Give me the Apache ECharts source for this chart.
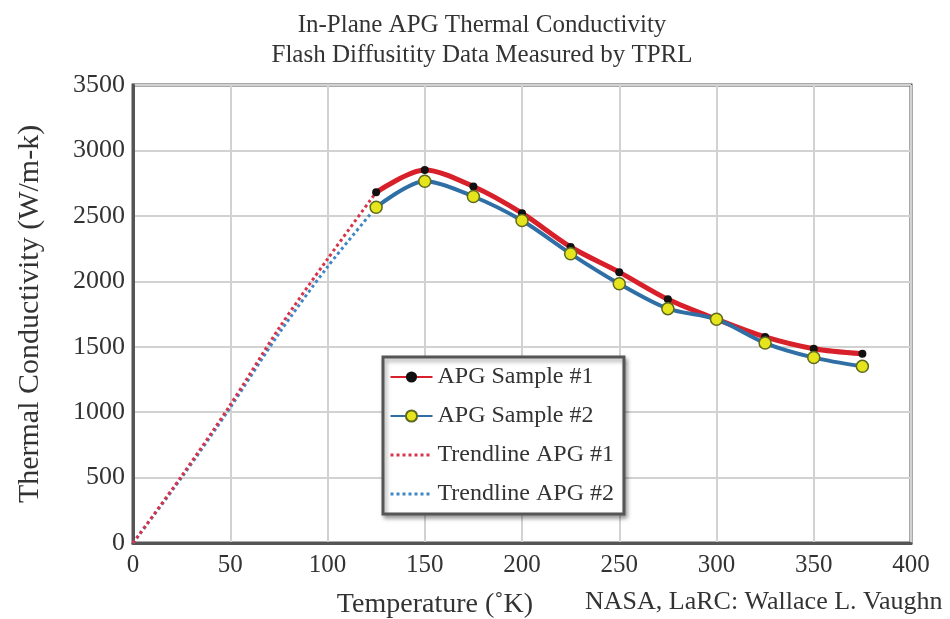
<!DOCTYPE html>
<html>
<head>
<meta charset="utf-8">
<script src="https://cdn.jsdelivr.net/npm/echarts@6/dist/echarts.min.js"></script>
<style>
  html, body { margin: 0; padding: 0; background: #fff; }
  #chart { width: 950px; height: 619px; }
</style>
</head>
<body>
<div id="chart"></div>
<script>
// temperatures (K) of the measured points
const temps = [125, 150, 175, 200, 225, 250, 275, 300, 325, 350, 375]
const sample1 = [2680, 2850, 2724, 2520, 2262, 2070, 1862, 1710, 1575, 1485, 1447]
const sample2 = [2566, 2765, 2648, 2464, 2210, 1981, 1791, 1710, 1528, 1417, 1350]

// trendlines below the first measurement
const trendTemps = [0, 25, 50, 75, 100, 125]
const trend1 = [0, 512, 1055, 1640, 2170, 2680]
const trend2 = [0, 500, 1035, 1600, 2110, 2566]

const xTicks = [0, 50, 100, 150, 200, 250, 300, 350, 400]

const serif = '"Liberation Serif", "DejaVu Serif", serif'

const pair = (xs, ys) => xs.map((x, i) => [x, ys[i]])

const chart = echarts.init(document.getElementById('chart'))

chart.setOption({
  animation: false,
  backgroundColor: '#fff',
  textStyle: { fontFamily: serif },
  title: {
    text: 'In-Plane APG Thermal Conductivity\nFlash Diffusitity Data Measured by TPRL',
    left: 477,
    top: 5,
    textAlign: 'center',
    textStyle: { fontFamily: serif, fontSize: 25, fontWeight: 'normal', color: '#333', lineHeight: 30 }
  },
  grid: {
    left: 133, right: 39, top: 85, bottom: 76,
    outerBoundsMode: 'none',
    show: true, borderColor: '#555', borderWidth: 3
  },
  legend: {
    orient: 'vertical',
    left: 383, top: 357,
    width: 239,
    padding: [8, 10, 8, 6],
    itemGap: 15,
    itemWidth: 42,
    itemHeight: 14,
    backgroundColor: '#fff',
    borderColor: '#555',
    borderWidth: 3,
    shadowColor: 'rgba(0,0,0,0.35)',
    shadowBlur: 4,
    shadowOffsetX: 2,
    shadowOffsetY: 3,
    textStyle: { fontFamily: serif, fontSize: 24, color: '#333' },
    data: [
      'APG Sample #1',
      'APG Sample #2',
      { name: 'Trendline APG #1', itemStyle: { opacity: 0 }, lineStyle: { width: 3 } },
      { name: 'Trendline APG #2', itemStyle: { opacity: 0 }, lineStyle: { width: 3 } }
    ]
  },
  xAxis: {
    type: 'value',
    min: 0, max: 400, interval: 50,
    name: 'Temperature (˚K)',
    nameLocation: 'middle',
    nameGap: 48,
    nameTextStyle: { fontFamily: serif, fontSize: 28, color: '#333', padding: [0, 174, 0, 0] },
    axisLine: { lineStyle: { color: '#555', width: 3 } },
    axisTick: { show: false },
    axisLabel: {
      margin: 10, fontFamily: serif, fontSize: 25, color: '#333',
      formatter: v => xTicks.includes(v) ? String(v) : ''
    },
    splitLine: { lineStyle: { color: '#d2d2d2', width: 2 } }
  },
  yAxis: {
    type: 'value',
    min: 0, max: 3500, interval: 500,
    name: 'Thermal Conductivity (W/m-k)',
    nameLocation: 'middle',
    nameGap: 88,
    nameTextStyle: { fontFamily: serif, fontSize: 30, color: '#333' },
    axisLine: { show: true, lineStyle: { color: '#555', width: 3 } },
    axisTick: { show: false },
    axisLabel: { margin: 8, fontFamily: serif, fontSize: 26, color: '#333', formatter: v => String(v) },
    splitLine: { lineStyle: { color: '#d2d2d2', width: 2 } }
  },
  graphic: [{
    type: 'text',
    left: 585, top: 589,
    style: { text: 'NASA, LaRC: Wallace L. Vaughn', font: '26px ' + serif, fill: '#333' }
  }],
  series: [
    {
      name: 'Trendline APG #2',
      type: 'line',
      data: pair(trendTemps, trend2),
      smooth: 0.3,
      symbol: 'none',
      lineStyle: { color: '#3f86c6', width: 3, type: [3, 3] },
      itemStyle: { color: '#3f86c6' },
      z: 2
    },
    {
      name: 'Trendline APG #1',
      type: 'line',
      data: pair(trendTemps, trend1),
      smooth: 0.3,
      symbol: 'none',
      lineStyle: { color: '#d7344a', width: 3, type: [3, 3] },
      itemStyle: { color: '#d7344a' },
      z: 2
    },
    {
      name: 'APG Sample #1',
      type: 'line',
      data: pair(temps, sample1),
      smooth: 0.3,
      symbol: 'circle',
      symbolSize: 8,
      lineStyle: { color: '#d8202a', width: 5 },
      itemStyle: { color: '#111', borderColor: '#111', borderWidth: 0 },
      z: 3
    },
    {
      name: 'APG Sample #2',
      type: 'line',
      data: pair(temps, sample2),
      smooth: 0.3,
      symbol: 'circle',
      symbolSize: 12,
      lineStyle: { color: '#2f6fa6', width: 4 },
      itemStyle: { color: '#e6e41c', borderColor: '#5c6a1e', borderWidth: 1.5 },
      z: 4
    }
  ]
})
</script>
</body>
</html>
